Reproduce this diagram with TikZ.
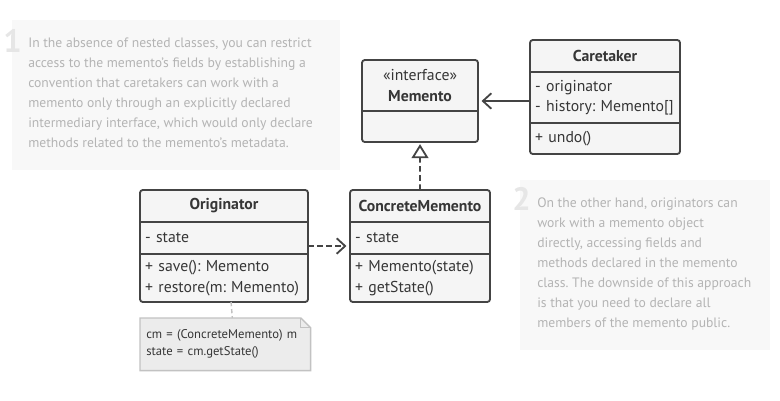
\documentclass[tikz,border=0pt]{standalone}
\usepackage{fontspec}
\setmainfont{PT Sans}
\usetikzlibrary{positioning,arrows.meta,calc,backgrounds}
\frenchspacing

\definecolor{umlline}{HTML}{444444}
\definecolor{umltext}{HTML}{363636}
\definecolor{umlfill}{HTML}{F5F5F5}
\definecolor{notebg}{HTML}{F8F8F8}
\definecolor{notetext}{HTML}{B4B4B4}
\definecolor{notenum}{HTML}{E6E6E6}
\definecolor{codefill}{HTML}{ECECEC}
\definecolor{codeline}{HTML}{C2C2C2}

\begin{document}
\begin{tikzpicture}[x=0.025cm, y=-0.025cm,
    part/.style={fill=umlfill, inner xsep=0.13cm, inner ysep=0pt, outer sep=0pt,
      text=umltext, font=\fontsize{11.2}{14.5}\selectfont},
    head/.style={part, align=center},
    body/.style={part, align=left},
    frame/.style={draw=umlline, line width=1.3pt, rounded corners=2pt},
    sep/.style={draw=umlline, line width=1.3pt},
    assoc/.style={draw=umlline, line width=1.3pt, -{Straight Barb[length=6pt,width=11pt]}, shorten >=2.5pt},
    depend/.style={assoc, dash pattern=on 4pt off 2.5pt},
    realize/.style={draw=umlline, line width=1.3pt, dash pattern=on 4pt off 2.5pt,
      -{Triangle[open,length=10pt,width=12pt]}, shorten >=1.5pt},
    notetxt/.style={inner sep=0pt, align=left, text=notetext, font=\fontsize{9.7}{14.2}\selectfont},
    notenr/.style={inner sep=0pt, text=notenum, font=\bfseries\fontsize{23}{23}\selectfont},
    codetxt/.style={inner xsep=0.15cm, inner ysep=0pt, align=left, text=umltext,
      font=\fontsize{9}{12}\selectfont},
    codebox/.style={fill=codefill, draw=codeline, line width=1pt},
    anchorline/.style={draw=codeline, line width=1pt, dash pattern=on 3pt off 2pt}
  ]
  \useasboundingbox (0,0) rectangle (780,400);

  %Side notes
  \fill[notebg] (12,20) rectangle (340,170);
  \node[notenr, anchor=base east] (nr1) at (22,53) {1};
  \node[notetxt, anchor=north west] (txt1) at (28,38) {In the absence of nested classes, you can restrict\\
    access to the memento’s fields by establishing a\\
    convention that caretakers can work with a\\
    memento only through an explicitly declared\\
    intermediary interface, which would only declare\\
    methods related to the memento’s metadata.};

  \fill[notebg] (520,180) rectangle (770,350);
  \node[notenr, anchor=base east] (nr2) at (531,210) {2};
  \node[notetxt, anchor=north west] (txt2) at (537,198) {On the other hand, originators can\\
    work with a memento object\\
    directly, accessing fields and\\
    methods declared in the memento\\
    class. The downside of this approach\\
    is that you need to declare all\\
    members of the memento public.};

  %Memento
  \node[head, minimum width=2.9cm, minimum height=1.275cm, anchor=north west] (memH) at (362,60)
    {«interface»\\[1pt]\textbf{Memento}};
  \node[body, text width=2.64cm, minimum height=0.775cm, below=0pt of memH] (memB) {};
  \draw[frame] (memH.north west) rectangle (memB.south east);
  \draw[sep] (memB.north west) -- (memB.north east);
  \coordinate (memE) at ($(memH.north east)!0.5!(memB.south east)$);

  %Caretaker
  \node[head, minimum width=3.75cm, minimum height=0.8cm, anchor=north west] (careH) at (530,40)
    {\textbf{Caretaker}};
  \node[body, text width=3.49cm, minimum height=1.275cm, below=0pt of careH] (careA)
    {- originator\\- history: Memento[]};
  \node[body, text width=3.49cm, minimum height=0.775cm, below=0pt of careA] (careM) {+ undo()};
  \draw[frame] (careH.north west) rectangle (careM.south east);
  \draw[sep] (careA.north west) -- (careA.north east);
  \draw[sep] (careM.north west) -- (careM.north east);

  %Originator
  \node[head, minimum width=4.2cm, minimum height=0.8cm, anchor=north west] (origH) at (140,190)
    {\textbf{Originator}};
  \node[body, text width=3.94cm, minimum height=0.8cm, below=0pt of origH] (origA) {- state};
  \node[body, text width=3.94cm, minimum height=1.2cm, below=0pt of origA] (origM)
    {+ save(): Memento\\+ restore(m: Memento)};
  \draw[frame] (origH.north west) rectangle (origM.south east);
  \draw[sep] (origA.north west) -- (origA.north east);
  \draw[sep] (origM.north west) -- (origM.north east);
  \coordinate (origE) at ($(origH.north east)!0.5!(origM.south east)$);

  %Concrete memento
  \node[head, minimum width=3.5cm, minimum height=0.8cm, anchor=north west] (concH) at (350,190)
    {\textbf{ConcreteMemento}};
  \node[body, text width=3.24cm, minimum height=0.8cm, below=0pt of concH] (concA) {- state};
  \node[body, text width=3.24cm, minimum height=1.2cm, below=0pt of concA] (concM)
    {+ Memento(state)\\+ getState()};
  \draw[frame] (concH.north west) rectangle (concM.south east);
  \draw[sep] (concA.north west) -- (concA.north east);
  \draw[sep] (concM.north west) -- (concM.north east);

  %Code note
  \node[codetxt, text width=3.95cm, minimum height=1.3cm, anchor=north west] (code) at (140,318)
    {cm = (ConcreteMemento) m\\state = cm.getState()};
  \begin{scope}[on background layer]
    \path[codebox] (code.north west) -- ([xshift=-7pt]code.north east)
      -- ([yshift=-7pt]code.north east) -- (code.south east) -- (code.south west) -- cycle;
  \end{scope}
  \draw[draw=codeline, line width=0.8pt] ([xshift=-7pt]code.north east)
    -- ([xshift=-7pt,yshift=-7pt]code.north east) -- ([yshift=-7pt]code.north east);

  %Connectors
  \draw[assoc] (careA.west |- memE) -- (memE);
  \draw[realize] (concH.north) -- (memB.south);
  \draw[depend] (origE) -- (origE -| concA.west);
  \draw[anchorline] ([xshift=5pt]origM.south) -- ([xshift=5pt]code.north);

\end{tikzpicture}
\end{document}
